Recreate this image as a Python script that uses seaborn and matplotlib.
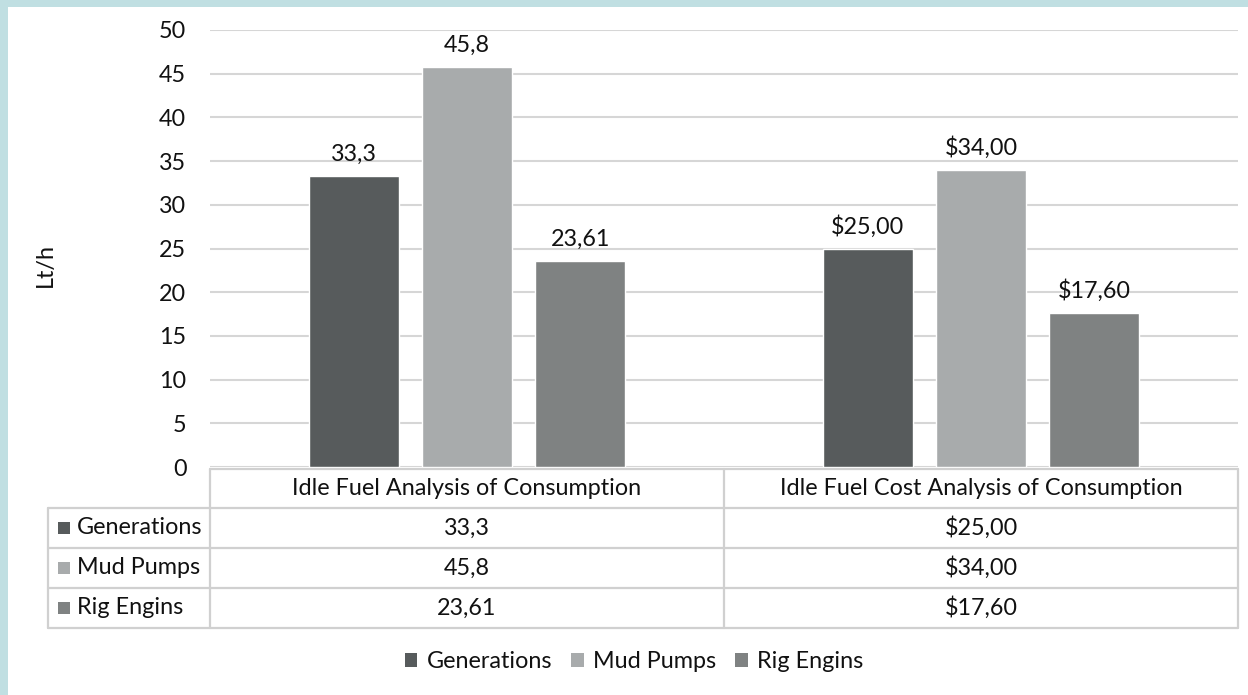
import matplotlib
matplotlib.use("Agg")
import matplotlib.pyplot as plt
import matplotlib.transforms as mtransforms
from matplotlib.patches import Rectangle, Patch
from matplotlib.lines import Line2D
import seaborn as sns
import pandas as pd

# ---- data ----
categories = ["Idle Fuel Analysis of Consumption", "Idle Fuel Cost Analysis of Consumption"]
series = ["Generations", "Mud Pumps", "Rig Engins"]
generations = [33.3, 25.00]
mud_pumps = [45.8, 34.00]
rig_engins = [23.61, 17.60]
value_labels = {
    "Generations": ["33,3", "$25,00"],
    "Mud Pumps": ["45,8", "$34,00"],
    "Rig Engins": ["23,61", "$17,60"],
}
colors = {"Generations": "#575b5c", "Mud Pumps": "#a8abac", "Rig Engins": "#7f8282"}
y_ticks = [0, 5, 10, 15, 20, 25, 30, 35, 40, 45, 50]
y_label = "Lt/h"

values = {"Generations": generations, "Mud Pumps": mud_pumps, "Rig Engins": rig_engins}
df = pd.DataFrame(
    [(c, s, values[s][i]) for s in series for i, c in enumerate(categories)],
    columns=["category", "series", "value"],
)

sns.set_theme(style="white")
plt.rcParams["font.family"] = ["Lato", "DejaVu Sans"]
FS = 16.8
TXT = "#111111"
GRID = "#d6d6d6"

W, H = 1248, 695
fig = plt.figure(figsize=(W / 100, H / 100), dpi=100)
fig.patch.set_facecolor("white")


def fx(px):
    return px / W


def fy(py):
    return 1 - py / H


ax_left, ax_right, ax_top, ax_bottom = 210, 1238, 30, 467
ax = fig.add_axes([fx(ax_left), fy(ax_bottom), fx(ax_right - ax_left), (ax_bottom - ax_top) / H])

sns.barplot(
    data=df, x="category", y="value", hue="series", hue_order=series,
    order=categories, palette=colors, width=0.66, gap=0.21,
    saturation=1, legend=False, ax=ax,
)

ax.set_xlim(-0.5, 1.5)
ax.set_ylim(0, 50)
ax.set_yticks(y_ticks)
ax.set_yticklabels([str(t) for t in y_ticks], fontsize=FS, color=TXT)
ax.tick_params(axis="y", length=0, pad=17)
ax.set_xticks([])
ax.set_xlabel("")
ax.set_ylabel("")
for sp in ax.spines.values():
    sp.set_visible(False)
ax.yaxis.grid(True, color=GRID, linewidth=1.5)
ax.set_axisbelow(True)

for cont, s in zip(ax.containers, series):
    ax.bar_label(cont, labels=value_labels[s], padding=8, fontsize=FS, color=TXT)

fig.text(fx(45), fy(265), y_label, rotation=90, ha="center", va="center", fontsize=FS, color=TXT)

# ---- data table under the axis ----
tr = mtransforms.blended_transform_factory(ax.transData, fig.transFigure)
LC = "#d0d0d0"
LW = 1.6
row_tops = [469, 508, 548, 588, 628]
tbl_left = 48

# header row (category names)
fig.add_artist(Line2D([fx(ax_left), fx(ax_right)], [fy(row_tops[0])] * 2, color=LC, lw=LW))
for i, c in enumerate(categories):
    fig.text(i, fy((row_tops[0] + row_tops[1]) / 2), c, transform=tr,
             ha="center", va="center", fontsize=FS, color=TXT)

# body rows
for r in row_tops[1:]:
    fig.add_artist(Line2D([fx(tbl_left), fx(ax_right)], [fy(r)] * 2, color=LC, lw=LW))
# vertical lines
fig.add_artist(Line2D([fx(tbl_left)] * 2, [fy(row_tops[1]), fy(row_tops[-1])], color=LC, lw=LW))
for xb in [-0.5, 0.5, 1.5]:
    fig.add_artist(Line2D([xb, xb], [fy(row_tops[0]), fy(row_tops[-1])], color=LC, lw=LW, transform=tr))

for k, s in enumerate(series):
    yc = (row_tops[k + 1] + row_tops[k + 2]) / 2
    fig.add_artist(Rectangle((fx(58), fy(yc + 6)), fx(12), 12 / H, color=colors[s], lw=0))
    fig.text(fx(77), fy(yc), s, ha="left", va="center", fontsize=FS, color=TXT)
    for i in range(len(categories)):
        fig.text(i, fy(yc), value_labels[s][i], transform=tr,
                 ha="center", va="center", fontsize=FS, color=TXT)

# ---- legend ----
handles = [Patch(facecolor=colors[s], edgecolor="none", label=s) for s in series]
fig.legend(handles=handles, loc="center", bbox_to_anchor=(fx(634), fy(662)), ncol=3,
           frameon=False, fontsize=FS, handlelength=0.55, handleheight=0.55,
           handletextpad=0.4, columnspacing=0.8, labelcolor=TXT)

# ---- frame strips ----
BORDER = "#c0dfe2"
fig.add_artist(Rectangle((0, 0), fx(8), 1, color=BORDER, lw=0))
fig.add_artist(Rectangle((0, fy(7)), 1, 7 / H, color=BORDER, lw=0))

fig.savefig("out.png", dpi=100)
